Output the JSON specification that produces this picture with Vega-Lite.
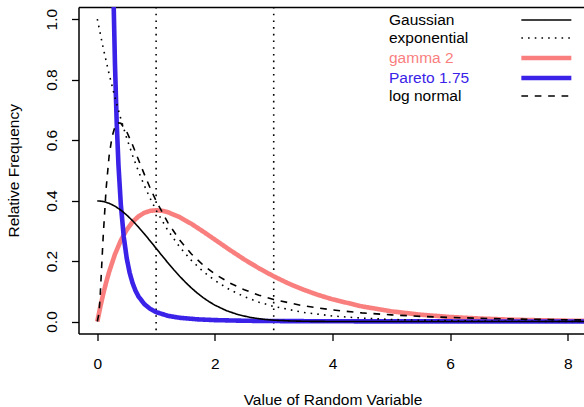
{
  "$schema": "https://vega.github.io/schema/vega-lite/v6.json",
  "width": 505.5,
  "height": 326.6,
  "autosize": {"type": "none"},
  "padding": {"left": 78.5, "top": 7, "right": 0, "bottom": 73.4},
  "config": {
    "view": {"stroke": null},
    "font": "Liberation Sans",
    "axis": {"labelFont": "Liberation Sans", "titleFont": "Liberation Sans", "labelColor": "black", "titleColor": "black", "tickColor": "black", "domainColor": "black", "grid": false}
  },
  "datasets": {
    "vlines": [{"v": 1}, {"v": 3}],
    "curves": [
      {"series": "gamma 2", "x": 0, "y": 0},
      {"series": "gamma 2", "x": 0.05, "y": 0.0476},
      {"series": "gamma 2", "x": 0.1, "y": 0.0905},
      {"series": "gamma 2", "x": 0.15, "y": 0.1291},
      {"series": "gamma 2", "x": 0.2, "y": 0.1637},
      {"series": "gamma 2", "x": 0.3, "y": 0.2222},
      {"series": "gamma 2", "x": 0.4, "y": 0.2681},
      {"series": "gamma 2", "x": 0.5, "y": 0.3033},
      {"series": "gamma 2", "x": 0.6, "y": 0.3293},
      {"series": "gamma 2", "x": 0.7, "y": 0.3476},
      {"series": "gamma 2", "x": 0.8, "y": 0.3595},
      {"series": "gamma 2", "x": 0.9, "y": 0.3659},
      {"series": "gamma 2", "x": 1.0, "y": 0.3679},
      {"series": "gamma 2", "x": 1.1, "y": 0.3662},
      {"series": "gamma 2", "x": 1.2, "y": 0.3614},
      {"series": "gamma 2", "x": 1.4, "y": 0.3452},
      {"series": "gamma 2", "x": 1.6, "y": 0.3230},
      {"series": "gamma 2", "x": 1.8, "y": 0.2975},
      {"series": "gamma 2", "x": 2.0, "y": 0.2707},
      {"series": "gamma 2", "x": 2.25, "y": 0.2371},
      {"series": "gamma 2", "x": 2.5, "y": 0.2052},
      {"series": "gamma 2", "x": 2.75, "y": 0.1758},
      {"series": "gamma 2", "x": 3.0, "y": 0.1494},
      {"series": "gamma 2", "x": 3.25, "y": 0.1258},
      {"series": "gamma 2", "x": 3.5, "y": 0.1057},
      {"series": "gamma 2", "x": 3.75, "y": 0.0882},
      {"series": "gamma 2", "x": 4.0, "y": 0.0733},
      {"series": "gamma 2", "x": 4.5, "y": 0.0500},
      {"series": "gamma 2", "x": 5.0, "y": 0.0337},
      {"series": "gamma 2", "x": 5.5, "y": 0.0225},
      {"series": "gamma 2", "x": 6.0, "y": 0.0149},
      {"series": "gamma 2", "x": 6.5, "y": 0.0098},
      {"series": "gamma 2", "x": 7.0, "y": 0.0064},
      {"series": "gamma 2", "x": 7.5, "y": 0.0041},
      {"series": "gamma 2", "x": 8.0, "y": 0.0027},
      {"series": "gamma 2", "x": 8.4, "y": 0.0019},
      {"series": "Pareto 1.75", "x": 0.25, "y": 1.407},
      {"series": "Pareto 1.75", "x": 0.28, "y": 1.031},
      {"series": "Pareto 1.75", "x": 0.3, "y": 0.8525},
      {"series": "Pareto 1.75", "x": 0.33, "y": 0.656},
      {"series": "Pareto 1.75", "x": 0.36, "y": 0.516},
      {"series": "Pareto 1.75", "x": 0.4, "y": 0.3865},
      {"series": "Pareto 1.75", "x": 0.45, "y": 0.2796},
      {"series": "Pareto 1.75", "x": 0.5, "y": 0.2092},
      {"series": "Pareto 1.75", "x": 0.55, "y": 0.161},
      {"series": "Pareto 1.75", "x": 0.6, "y": 0.1267},
      {"series": "Pareto 1.75", "x": 0.65, "y": 0.1017},
      {"series": "Pareto 1.75", "x": 0.7, "y": 0.0829},
      {"series": "Pareto 1.75", "x": 0.8, "y": 0.0575},
      {"series": "Pareto 1.75", "x": 0.9, "y": 0.0416},
      {"series": "Pareto 1.75", "x": 1.0, "y": 0.0311},
      {"series": "Pareto 1.75", "x": 1.2, "y": 0.0188},
      {"series": "Pareto 1.75", "x": 1.4, "y": 0.0123},
      {"series": "Pareto 1.75", "x": 1.7, "y": 0.0072},
      {"series": "Pareto 1.75", "x": 2.0, "y": 0.0046},
      {"series": "Pareto 1.75", "x": 2.5, "y": 0.0025},
      {"series": "Pareto 1.75", "x": 3.0, "y": 0.0015},
      {"series": "Pareto 1.75", "x": 4.0, "y": 0.0007},
      {"series": "Pareto 1.75", "x": 5.0, "y": 0.0004},
      {"series": "Pareto 1.75", "x": 6.5, "y": 0.0002},
      {"series": "Pareto 1.75", "x": 8.4, "y": 0.0001},
      {"series": "Gaussian", "x": 0, "y": 0.3989},
      {"series": "Gaussian", "x": 0.1, "y": 0.3970},
      {"series": "Gaussian", "x": 0.2, "y": 0.3910},
      {"series": "Gaussian", "x": 0.3, "y": 0.3814},
      {"series": "Gaussian", "x": 0.4, "y": 0.3683},
      {"series": "Gaussian", "x": 0.5, "y": 0.3521},
      {"series": "Gaussian", "x": 0.6, "y": 0.3332},
      {"series": "Gaussian", "x": 0.7, "y": 0.3123},
      {"series": "Gaussian", "x": 0.8, "y": 0.2897},
      {"series": "Gaussian", "x": 0.9, "y": 0.2661},
      {"series": "Gaussian", "x": 1.0, "y": 0.2420},
      {"series": "Gaussian", "x": 1.1, "y": 0.2179},
      {"series": "Gaussian", "x": 1.2, "y": 0.1942},
      {"series": "Gaussian", "x": 1.3, "y": 0.1714},
      {"series": "Gaussian", "x": 1.4, "y": 0.1497},
      {"series": "Gaussian", "x": 1.5, "y": 0.1295},
      {"series": "Gaussian", "x": 1.6, "y": 0.1109},
      {"series": "Gaussian", "x": 1.7, "y": 0.0940},
      {"series": "Gaussian", "x": 1.8, "y": 0.0790},
      {"series": "Gaussian", "x": 1.9, "y": 0.0656},
      {"series": "Gaussian", "x": 2.0, "y": 0.0540},
      {"series": "Gaussian", "x": 2.2, "y": 0.0355},
      {"series": "Gaussian", "x": 2.4, "y": 0.0224},
      {"series": "Gaussian", "x": 2.6, "y": 0.0136},
      {"series": "Gaussian", "x": 2.8, "y": 0.0079},
      {"series": "Gaussian", "x": 3.0, "y": 0.0044},
      {"series": "Gaussian", "x": 3.3, "y": 0.0017},
      {"series": "Gaussian", "x": 3.6, "y": 0.0006},
      {"series": "Gaussian", "x": 4.0, "y": 0.0001},
      {"series": "Gaussian", "x": 5.0, "y": 0},
      {"series": "Gaussian", "x": 8.4, "y": 0},
      {"series": "exponential", "x": 0, "y": 1},
      {"series": "exponential", "x": 0.1, "y": 0.9048},
      {"series": "exponential", "x": 0.2, "y": 0.8187},
      {"series": "exponential", "x": 0.3, "y": 0.7408},
      {"series": "exponential", "x": 0.4, "y": 0.6703},
      {"series": "exponential", "x": 0.5, "y": 0.6065},
      {"series": "exponential", "x": 0.6, "y": 0.5488},
      {"series": "exponential", "x": 0.7, "y": 0.4966},
      {"series": "exponential", "x": 0.8, "y": 0.4493},
      {"series": "exponential", "x": 0.9, "y": 0.4066},
      {"series": "exponential", "x": 1.0, "y": 0.3679},
      {"series": "exponential", "x": 1.2, "y": 0.3012},
      {"series": "exponential", "x": 1.4, "y": 0.2466},
      {"series": "exponential", "x": 1.6, "y": 0.2019},
      {"series": "exponential", "x": 1.8, "y": 0.1653},
      {"series": "exponential", "x": 2.0, "y": 0.1353},
      {"series": "exponential", "x": 2.25, "y": 0.1054},
      {"series": "exponential", "x": 2.5, "y": 0.0821},
      {"series": "exponential", "x": 2.75, "y": 0.0639},
      {"series": "exponential", "x": 3.0, "y": 0.0498},
      {"series": "exponential", "x": 3.5, "y": 0.0302},
      {"series": "exponential", "x": 4.0, "y": 0.0183},
      {"series": "exponential", "x": 4.5, "y": 0.0111},
      {"series": "exponential", "x": 5.0, "y": 0.0067},
      {"series": "exponential", "x": 5.5, "y": 0.0041},
      {"series": "exponential", "x": 6.0, "y": 0.0025},
      {"series": "exponential", "x": 6.5, "y": 0.0015},
      {"series": "exponential", "x": 7.0, "y": 0.0009},
      {"series": "exponential", "x": 7.5, "y": 0.0006},
      {"series": "exponential", "x": 8.0, "y": 0.0003},
      {"series": "exponential", "x": 8.4, "y": 0.0002},
      {"series": "log normal", "x": 0, "y": 0},
      {"series": "log normal", "x": 0.03, "y": 0.0284},
      {"series": "log normal", "x": 0.05, "y": 0.0898},
      {"series": "log normal", "x": 0.1, "y": 0.2816},
      {"series": "log normal", "x": 0.15, "y": 0.4399},
      {"series": "log normal", "x": 0.2, "y": 0.5463},
      {"series": "log normal", "x": 0.25, "y": 0.6104},
      {"series": "log normal", "x": 0.3, "y": 0.6442},
      {"series": "log normal", "x": 0.35, "y": 0.6569},
      {"series": "log normal", "x": 0.4, "y": 0.6555},
      {"series": "log normal", "x": 0.5, "y": 0.6276},
      {"series": "log normal", "x": 0.6, "y": 0.5836},
      {"series": "log normal", "x": 0.7, "y": 0.5348},
      {"series": "log normal", "x": 0.8, "y": 0.4864},
      {"series": "log normal", "x": 0.9, "y": 0.4408},
      {"series": "log normal", "x": 1.0, "y": 0.3989},
      {"series": "log normal", "x": 1.2, "y": 0.3270},
      {"series": "log normal", "x": 1.4, "y": 0.2693},
      {"series": "log normal", "x": 1.6, "y": 0.2233},
      {"series": "log normal", "x": 1.8, "y": 0.1865},
      {"series": "log normal", "x": 2.0, "y": 0.1569},
      {"series": "log normal", "x": 2.25, "y": 0.1276},
      {"series": "log normal", "x": 2.5, "y": 0.1049},
      {"series": "log normal", "x": 2.75, "y": 0.0870},
      {"series": "log normal", "x": 3.0, "y": 0.0727},
      {"series": "log normal", "x": 3.5, "y": 0.0520},
      {"series": "log normal", "x": 4.0, "y": 0.0382},
      {"series": "log normal", "x": 4.5, "y": 0.0286},
      {"series": "log normal", "x": 5.0, "y": 0.0219},
      {"series": "log normal", "x": 5.5, "y": 0.0170},
      {"series": "log normal", "x": 6.0, "y": 0.0134},
      {"series": "log normal", "x": 6.5, "y": 0.0107},
      {"series": "log normal", "x": 7.0, "y": 0.0086},
      {"series": "log normal", "x": 7.5, "y": 0.0070},
      {"series": "log normal", "x": 8.0, "y": 0.0057},
      {"series": "log normal", "x": 8.4, "y": 0.0049}
    ]
  },
  "layer": [
    {
      "data": {"name": "vlines"},
      "mark": {"type": "rule", "strokeDash": [1.6, 5.1], "strokeWidth": 1.6, "color": "black", "clip": true},
      "encoding": {
        "x": {
          "field": "v", "type": "quantitative",
          "scale": {"domain": [-0.32, 8.277], "nice": false, "zero": false},
          "axis": {"orient": "top", "labels": false, "ticks": false, "title": null, "domain": true, "domainWidth": 1.5}
        }
      }
    },
    {
      "data": {"name": "curves"},
      "mark": {"type": "line", "clip": true, "strokeCap": "butt"},
      "encoding": {
        "x": {
          "field": "x", "type": "quantitative",
          "scale": {"domain": [-0.32, 8.277], "nice": false, "zero": false},
          "axis": {
            "orient": "bottom", "values": [0, 2, 4, 6, 8], "format": "d",
            "domain": true, "domainWidth": 1.5, "tickSize": 7, "tickWidth": 1.3,
            "labelFontSize": 15.5, "labelBaseline": "alphabetic", "labelAlign": "center", "labelPadding": 27.4,
            "labelFlush": false, "labelOverlap": false,
            "title": "Value of Random Variable", "titleFontSize": 15.5, "titleFontWeight": "normal",
            "titleBaseline": "alphabetic", "titleAlign": "center", "titleX": 254, "titleY": 71
          }
        },
        "y": {
          "field": "y", "type": "quantitative",
          "scale": {"domain": [-0.04, 1.04], "nice": false, "zero": false},
          "axis": {
            "values": [0, 0.2, 0.4, 0.6, 0.8, 1.0], "format": ".1f",
            "domain": true, "domainWidth": 1.5, "tickSize": 7, "tickWidth": 1.3,
            "labelFontSize": 15.5, "labelAngle": -90, "labelAlign": "center", "labelBaseline": "alphabetic", "labelPadding": 14.8,
            "labelFlush": false, "labelOverlap": false,
            "title": "Relative Frequency", "titleFontSize": 15.5, "titleFontWeight": "normal",
            "titleAngle": -90, "titleBaseline": "alphabetic", "titleAlign": "center", "titleX": -60, "titleY": 163.3
          }
        },
        "color": {
          "field": "series", "type": "nominal",
          "scale": {
            "domain": ["Gaussian", "exponential", "gamma 2", "Pareto 1.75", "log normal"],
            "range": ["black", "black", "#F97F7F", "#3A22E8", "black"]
          },
          "legend": {
            "orient": "none", "legendX": 460.1, "legendY": 5.3, "title": null, "padding": 0,
            "symbolType": "stroke", "symbolSize": 2500, "symbolStrokeWidth": 1.6,
            "labelFont": "Liberation Sans", "labelFontSize": 15.5, "labelAlign": "left", "labelBaseline": "middle",
            "labelOffset": -165.1, "labelLimit": 0, "rowPadding": 1.0,
            "encode": {
              "labels": {"update": {"fill": {"scale": "color", "field": "value"}}},
              "symbols": {"update": {"strokeWidth": {"signal": "datum.value == 'gamma 2' || datum.value == 'Pareto 1.75' ? 4.6 : 1.6"}}}
            }
          }
        },
        "strokeDash": {
          "field": "series", "type": "nominal",
          "scale": {
            "domain": ["Gaussian", "exponential", "gamma 2", "Pareto 1.75", "log normal"],
            "range": [[1, 0], [1.6, 5.1], [1, 0], [1, 0], [6.7, 6.7]]
          }
        },
        "strokeWidth": {
          "condition": {"test": "datum.series == 'gamma 2' || datum.series == 'Pareto 1.75'", "value": 4.6},
          "value": 1.6
        }
      }
    }
  ],
  "resolve": {"axis": {"x": "independent"}}
}
